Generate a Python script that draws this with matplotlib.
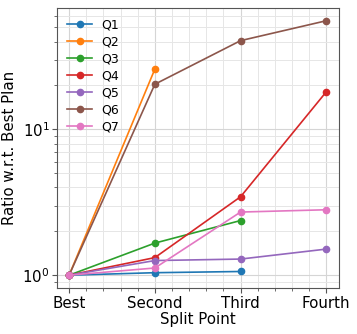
import matplotlib
matplotlib.use("Agg")
import matplotlib.pyplot as plt
import numpy as np

# split points and ratios
points = ["Best", "Second", "Third", "Fourth"]
q1 = [1.0, 1.04, 1.06]
q2 = [1.0, 25.9]
q3 = [1.0, 1.66, 2.37]
q4 = [1.0, 1.32, 3.45, 18.1]
q5 = [1.0, 1.26, 1.29, 1.51]
q6 = [1.0, 20.4, 40.6, 55.6]
q7 = [1.0, 1.12, 2.71, 2.81]
series = [q1, q2, q3, q4, q5, q6, q7]
names = ["Q1", "Q2", "Q3", "Q4", "Q5", "Q6", "Q7"]

fig = plt.figure(figsize=(3.57, 3.34), dpi=100)
ax = fig.add_axes([0.16, 0.138, 0.79, 0.838])

for vals, name in zip(series, names):
    ax.plot(np.arange(len(vals)), vals, marker="o", markersize=4.5, linewidth=1.2, label=name)

ax.set_yscale("log")
ax.set_xticks(range(len(points)))
ax.set_xticklabels(points)
ax.set_xticks(np.arange(-0.2, 3.3, 0.2), minor=True)
ax.set_xlim(-0.14, 3.15)
ax.grid(True, which="major", color="#d5d5d5", linewidth=0.8)
ax.grid(True, which="minor", color="#e6e6e6", linewidth=0.7)
ax.set_axisbelow(True)
for s in ax.spines.values():
    s.set_color("#555555")
ax.tick_params(labelsize=10.8, pad=2)
ax.tick_params(which="both", color="#555555")
ax.set_xlabel("Split Point", fontsize=10.8, labelpad=1)
ax.set_ylabel("Ratio w.r.t. Best Plan", fontsize=10.8, labelpad=4)
ax.legend(loc="upper left", frameon=False, fontsize=9, handlelength=2, labelspacing=0.33,
          borderaxespad=0.4, handletextpad=0.7)

fig.savefig("out.png", dpi=100)
